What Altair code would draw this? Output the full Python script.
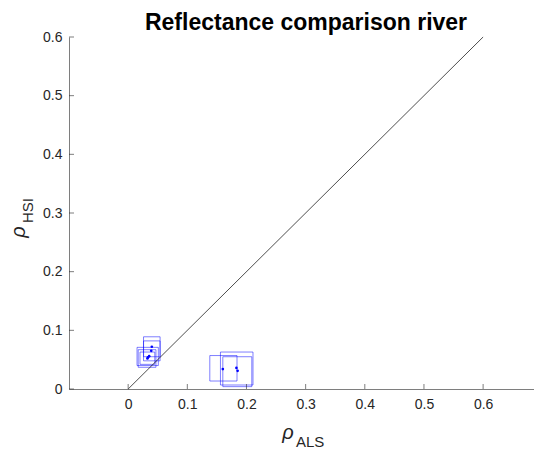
import altair as alt
import pandas as pd

# data
als = [0.040, 0.039, 0.0355, 0.0326, 0.0335, 0.160, 0.183, 0.185]
hsi = [0.072, 0.065, 0.056, 0.052, 0.054, 0.034, 0.036, 0.031]
als_lo = [0.026, 0.026, 0.015, 0.017, 0.020, 0.138, 0.156, 0.160]
als_hi = [0.054, 0.054, 0.051, 0.047, 0.045, 0.184, 0.211, 0.209]
hsi_lo = [0.055, 0.048, 0.040, 0.037, 0.042, 0.0136, 0.0068, 0.004]
hsi_hi = [0.089, 0.082, 0.071, 0.067, 0.063, 0.057, 0.063, 0.055]
ticks = [0, 0.1, 0.2, 0.3, 0.4, 0.5, 0.6]
line_x = [0, 0.6]
line_y = [0, 0.6]
title_text = ["Reflectance comparison river"]

W, H = 465, 352
df = pd.DataFrame({"als": als, "hsi": hsi, "xlo": als_lo, "xhi": als_hi,
                   "ylo": hsi_lo, "yhi": hsi_hi})
tick_df = pd.DataFrame({"t": ticks})
line_df = pd.DataFrame({"x": line_x, "y": line_y})

xs = alt.Scale(domain=[-0.1, 0.686], nice=False, zero=False)
ys = alt.Scale(domain=[0, 0.6], nice=False, zero=False)
FONT = "Liberation Sans"
GRAY = "#262626"

xaxis = alt.Axis(values=ticks, ticks=False, grid=False, title=None, labelFontSize=14,
                 labelColor=GRAY, labelFont=FONT, labelPadding=8, domainColor=GRAY,
                 domainWidth=0.6, format="~g")
yaxis = alt.Axis(values=ticks, ticks=False, grid=False, title=None, labelFontSize=14,
                 labelColor=GRAY, labelFont=FONT, labelPadding=7, domainColor=GRAY,
                 domainWidth=0.6, format="~g")

base = alt.Chart(df)

boxes = base.mark_rect(filled=False, stroke="#0000ff", strokeOpacity=0.5, strokeWidth=1).encode(
    x=alt.X("xlo:Q", scale=xs, axis=xaxis), x2="xhi:Q",
    y=alt.Y("ylo:Q", scale=ys, axis=yaxis), y2="yhi:Q")

points = base.mark_circle(color="#0000ff", size=7, opacity=1).encode(
    x=alt.X("als:Q", scale=xs), y=alt.Y("hsi:Q", scale=ys))

line = alt.Chart(line_df).mark_line(color="black", strokeWidth=0.7).encode(
    x=alt.X("x:Q", scale=xs), y=alt.Y("y:Q", scale=ys))

xticks = alt.Chart(tick_df).mark_rule(color=GRAY, strokeWidth=0.6).encode(
    x=alt.X("t:Q", scale=xs), y=alt.value(H), y2=alt.value(H - 5))
yticks = alt.Chart(tick_df).mark_rule(color=GRAY, strokeWidth=0.6).encode(
    y=alt.Y("t:Q", scale=ys), x=alt.value(0), x2=alt.value(5))

lab = pd.DataFrame({"a": [0]})
title = alt.Chart(pd.DataFrame({"t": title_text})).mark_text(
    fontSize=23, font=FONT, fontWeight="bold", color="black",
    align="center", baseline="alphabetic").encode(
    text="t:N", x=alt.value(237), y=alt.value(-7))
xrho = alt.Chart(lab).mark_text(text="ρ", fontSize=20, font=FONT, fontStyle="italic", color=GRAY,
                                align="center", baseline="alphabetic").encode(
    x=alt.value(219), y=alt.value(402))
xsub = alt.Chart(lab).mark_text(text="ALS", fontSize=15, font=FONT, color=GRAY,
                                align="left", baseline="alphabetic").encode(
    x=alt.value(227), y=alt.value(410))
yrho = alt.Chart(lab).mark_text(text="ρ", fontSize=20, font=FONT, fontStyle="italic", color=GRAY,
                                angle=270, align="center", baseline="alphabetic").encode(
    x=alt.value(-44), y=alt.value(195))
ysub = alt.Chart(lab).mark_text(text="HSI", fontSize=15, font=FONT, color=GRAY, angle=270,
                                align="left", baseline="alphabetic").encode(
    x=alt.value(-36), y=alt.value(186))

chart = alt.layer(boxes, line, points, xticks, yticks, title, xrho, xsub, yrho, ysub).properties(
    width=W, height=H,
    autosize=alt.AutoSizeParams(type="none"),
    padding={"left": 61, "top": 29, "right": 0, "bottom": 60},
).configure_view(stroke=None)

chart.save("out.html", embed_options={"renderer": "svg", "actions": False})
